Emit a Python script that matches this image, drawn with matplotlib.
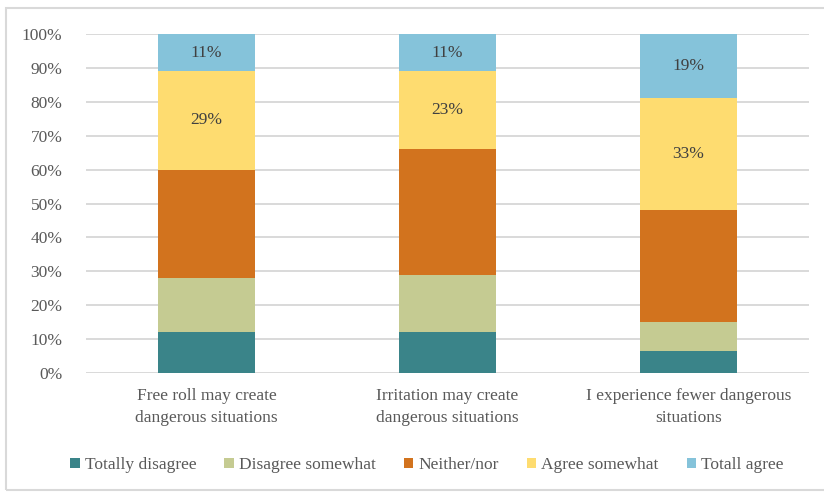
import matplotlib.pyplot as plt
from matplotlib.patches import Rectangle
from matplotlib.ticker import PercentFormatter

categories = ["Free roll may create\ndangerous situations",
              "Irritation may create\ndangerous situations",
              "I experience fewer dangerous\nsituations"]
series = ["Totally disagree", "Disagree somewhat", "Neither/nor",
          "Agree somewhat", "Totall agree"]
totally_disagree = [12, 12, 6.5]
disagree_somewhat = [16, 17, 8.5]
neither_nor = [32, 37, 33]
agree_somewhat = [29, 23, 33]
totall_agree = [11, 11, 19]
values = [totally_disagree, disagree_somewhat, neither_nor, agree_somewhat, totall_agree]
colors = ["#3A8489", "#C5CB92", "#D2731E", "#FEDC70", "#85C3DA"]
labelled = {"Agree somewhat", "Totall agree"}

plt.rcParams['font.family'] = ['Liberation Serif', 'DejaVu Serif']
grey = "#595959"
fs = 12.5

fig = plt.figure(figsize=(8.24, 4.96), dpi=100)
ax = fig.add_axes([86 / 824, 123 / 496, 723 / 824, 339 / 496])

x = list(range(len(categories)))
bottom = [0.0] * len(categories)
for name, vals, c in zip(series, values, colors):
    bars = ax.bar(x, vals, width=0.4, bottom=bottom, color=c, label=name, zorder=3)
    if name in labelled:
        for b, v in zip(bars, vals):
            ax.text(b.get_x() + b.get_width() / 2, b.get_y() + b.get_height() / 2,
                    f"{v:.0f}%", ha="center", va="center", fontsize=fs,
                    color="#404040", zorder=4)
    bottom = [b + v for b, v in zip(bottom, vals)]

ax.set_xlim(-0.5, 2.5)
ax.set_ylim(0, 100)
ax.set_yticks(range(0, 101, 10))
ax.yaxis.set_major_formatter(PercentFormatter(decimals=0))
ax.set_xticks(x)
ax.set_xticklabels(categories, fontsize=fs, color=grey, linespacing=1.5)
ax.tick_params(axis="y", labelsize=fs, colors=grey, length=0, pad=17)
ax.tick_params(axis="x", length=0, pad=11)
ax.grid(axis="y", color="#D9D9D9", linewidth=1.4, zorder=0)
for s in ax.spines.values():
    s.set_visible(False)

fig.legend(loc="center", bbox_to_anchor=(427 / 824, 1 - 465 / 496), ncol=5,
           frameon=False, fontsize=fs, labelcolor=grey, handlelength=0.55,
           handleheight=0.55, handletextpad=0.3, columnspacing=1.6)

fig.patches.append(Rectangle((6 / 824, 6 / 496), 1.0, 482 / 496, transform=fig.transFigure,
                             fill=False, edgecolor="#D9D9D9", linewidth=1.5))

fig.savefig("out.png", dpi=100)
